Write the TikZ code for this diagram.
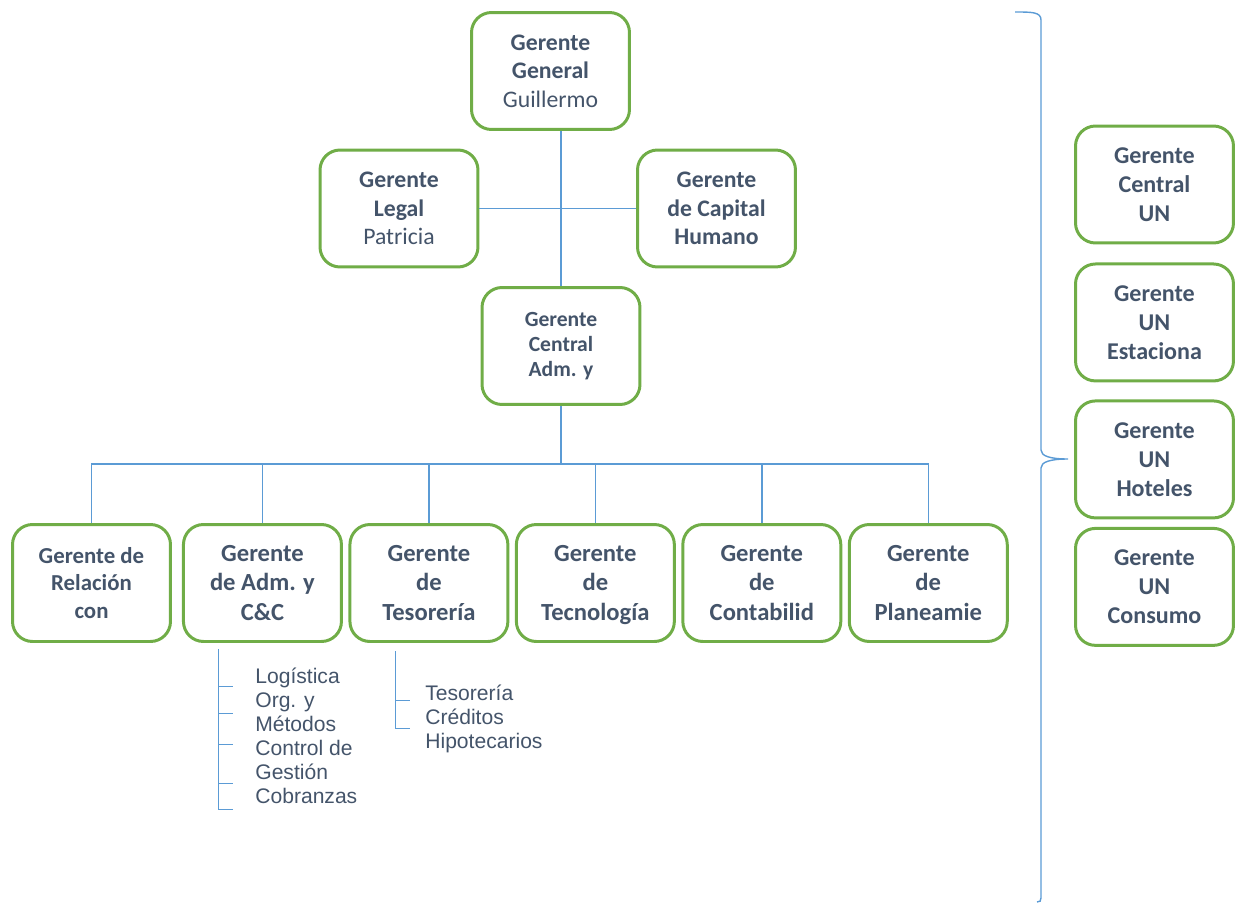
\documentclass[tikz,border=0pt]{standalone}
\usepackage{fontspec}
\setmainfont{Carlito}
\newfontfamily\listfont{Liberation Sans}
\usetikzlibrary{positioning,calc}
\definecolor{boxgreen}{HTML}{70AD47}
\definecolor{linkblue}{HTML}{5B9BD5}
\definecolor{slate}{HTML}{44546A}

\begin{document}
\begin{tikzpicture}[x=0.02cm,y=-0.02cm]
	\tikzstyle{box} = [draw=boxgreen, line width=1.7pt, rounded corners=0.4cm, fill=white, minimum width=3.16cm, minimum height=2.34cm, align=center, text=slate, inner sep=2pt, font=\bfseries\fontsize{13.5}{16.2}\selectfont]
	\tikzstyle{rowbox} = [box, font=\bfseries\fontsize{14}{16.7}\selectfont]
	\tikzstyle{unbox} = [box, font=\bfseries\fontsize{13.7}{16.4}\selectfont]
	\tikzstyle{link} = [draw=linkblue, line width=0.8pt]
	\tikzstyle{sublist} = [anchor=north west, inner sep=0pt, align=left, text=slate, font=\listfont\fontsize{12}{13.6}\selectfont]
	
	\useasboundingbox (0,0) rectangle (1242,903);
	
	\node [box] (gg) at (550.5,71) {Gerente\\General\\\mdseries Guillermo};
	\node [box] (legal) at (399,208.5) {Gerente\\Legal\\\mdseries Patricia};
	\node [box] (capital) at (716.5,208.5) {Gerente\\de Capital\\Humano};
	\node [box, font=\bfseries\fontsize{12.3}{14.2}\selectfont] (cadm) at (561,346) {Gerente\\Central\\Adm. y};
	
	\node [rowbox, font=\bfseries\fontsize{13}{15.9}\selectfont] (rel) at (91.5,583) {Gerente de\\Relación\\con};
	\node [rowbox, right = 0.2cm of rel] (adm) {Gerente\\de Adm. y\\C\&C};
	\node [rowbox, right = 0.11cm of adm] (tes) {Gerente\\de\\Tesorería};
	\node [rowbox, right = 0.11cm of tes] (tec) {Gerente\\de\\Tecnolo\smash{g}ía};
	\node [rowbox, right = 0.11cm of tec] (cont) {Gerente\\de\\Contabilid};
	\node [rowbox, right = 0.11cm of cont] (plan) {Gerente\\de\\Planeamie};
	
	\node [unbox] (uncentral) at (1154.5,184.5) {Gerente\\Central\\UN};
	\node [unbox, below = 0.36cm of uncentral] (unestac) {Gerente\\UN\\Estaciona};
	\node [unbox, below = 0.34cm of unestac] (unhotel) {Gerente\\UN\\Hoteles};
	\node [unbox, below = 0.15cm of unhotel] (unconsumo) {Gerente\\UN\\Consumo};
	
	\coordinate (bus) at (561,464);
	\draw [link] (gg.south -| cadm.north) -- (cadm.north);
	\draw [link] (legal.east) -- (capital.west);
	\draw [link] (cadm.south) -- (bus);
	\draw [link] (rel.north) -- (rel.north |- bus) -- (plan.north |- bus) -- (plan.north);
	\draw [link] (adm.north |- bus) -- (adm.north);
	\draw [link] (tes.north |- bus) -- (tes.north);
	\draw [link] (tec.north |- bus) -- (tec.north);
	\draw [link] (cont.north |- bus) -- (cont.north);
	
	\coordinate (admlist) at ($(adm.south west)+(36.5,6.5)$);
	\draw [link] (admlist) -- ++(0,160) -- ++(15,0)
		($(admlist)+(0,37)$) -- ++(15,0)
		($(admlist)+(0,64)$) -- ++(15,0)
		($(admlist)+(0,95)$) -- ++(15,0)
		($(admlist)+(0,134)$) -- ++(15,0);
	\node [sublist] (admitems) at (255,668) {Logística\\Org. y\\Métodos\\Control de\\Gestión\\Cobranzas};
	
	\coordinate (teslist) at ($(tes.south west)+(47,8.5)$);
	\draw [link] (teslist) -- ++(0,77) -- ++(15,0)
		($(teslist)+(0,49)$) -- ++(15,0);
	\node [sublist] (tesitems) at (425,685) {Tesorería\\Créditos\\Hipotecarios};
	
	\draw [link] (1015,12) .. controls (1032,12) and (1041,12) .. (1041,20) -- (1041,450)
		.. controls (1041,456) and (1050,459) .. (1068,459)
		.. controls (1050,459) and (1041,462) .. (1041,468) -- (1041,898)
		.. controls (1041,901) and (1040,902) .. (1037,902);
\end{tikzpicture}
\end{document}
